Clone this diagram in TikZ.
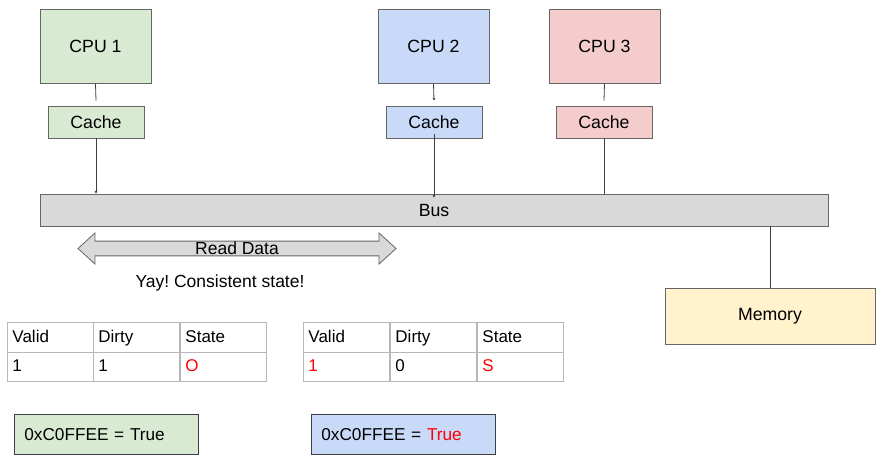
\documentclass[tikz,border=0pt]{standalone}
\usepackage{fontspec}
\setmainfont{Liberation Sans}
\usetikzlibrary{shapes.arrows,arrows.meta}
\frenchspacing
\definecolor{gfill}{HTML}{D9EAD3}
\definecolor{bfill}{HTML}{C9DAF8}
\definecolor{rfill}{HTML}{F4CCCC}
\definecolor{yfill}{HTML}{FFF2CC}
\definecolor{grayfill}{HTML}{D9D9D9}
\definecolor{edge}{HTML}{666666}
\definecolor{tabline}{HTML}{B7B7B7}
\definecolor{wire}{HTML}{3C4043}
\definecolor{redtxt}{HTML}{FF0000}
\tikzset{
  box/.style={draw=edge, line width=0.8pt, inner sep=0pt, font=\fontsize{17.7}{20}\selectfont},
  cpu/.style={box, minimum width=111pt, minimum height=74pt},
  cache/.style={box, minimum width=96pt, minimum height=32pt},
  wirel/.style={draw=wire, line width=0.8pt},
  tip/.style={-{Stealth[length=3pt,width=3pt]}},
  cell/.style={draw=tabline, line width=0.9pt, anchor=north west, inner sep=0pt, inner xsep=5pt,
     text width=76pt, align=left, minimum height=30pt, text height=12.5pt, text depth=3pt,
     font=\fontsize{17}{20}\selectfont},
  txt/.style={inner sep=0pt, font=\fontsize{17.5}{20}\selectfont},
  flag/.style={draw=wire, line width=0.8pt, anchor=north west, minimum width=184pt, minimum height=40pt,
     inner sep=0pt, inner xsep=10pt, text width=164pt, align=left, font=\fontsize{17.2}{20}\selectfont}
}
\begin{document}
\begin{tikzpicture}[x=1pt,y=-1pt]
\useasboundingbox (0,0) rectangle (883,460);
% CPUs
\node[cpu, fill=gfill] (cpu1) at (95.5,46) {\raisebox{-1pt}{CPU 1}};
\node[cpu, fill=bfill] (cpu2) at (433.5,46) {\raisebox{-1pt}{CPU 2}};
\node[cpu, fill=rfill] (cpu3) at (604.5,46) {\raisebox{-1pt}{CPU 3}};
% caches
\node[cache, fill=gfill] (c1) at (96,122) {Cache};
\node[cache, fill=bfill] (c2) at (434,122) {Cache};
\node[cache, fill=rfill] (c3) at (604,122) {Cache};
% bus
\node[box, fill=grayfill, minimum width=788pt, minimum height=32pt] (bus) at (434,210) {\raisebox{-1pt}{Bus}};
% memory
\node[box, fill=yfill, minimum width=210pt, minimum height=56pt] (mem) at (770,316) {\raisebox{-1pt}{Memory}};
% connectors
\draw[wirel] (cpu1.south) -- ([yshift=5pt]c1.north);
\draw[wirel,tip] (cpu2.south) -- ([yshift=5pt]c2.north);
\draw[wirel] (cpu3.south) -- ([yshift=5pt]c3.north);
\draw[wirel,tip] (c1.south) -- (c1.south |- bus.north);
\draw[wirel,tip] ([yshift=4pt]c2.south) -- ([yshift=-4pt]c2.south |- bus.north);
\draw[wirel] (c3.south) -- (c3.south |- bus.north);
\draw[wirel] (mem.north -| 770,0) coordinate (mtop) -- (bus.south -| mtop);
% read data arrow
\node[double arrow, draw=edge, line width=0.8pt, fill=grayfill, minimum width=31pt,
  double arrow head extend=7.5pt, double arrow tip angle=85, minimum height=318pt, inner sep=0pt,
  font=\fontsize{17.5}{20}\selectfont] (rd) at (237,248.5) {\raisebox{-2pt}{Read Data}};
\node[txt] (yay) at (220,283) {Yay! Consistent state!};
% table 1
\node[cell] (t1a) at (7,322) {Valid};
\node[cell] (t1b) at (93,322) {Dirty};
\node[cell] (t1c) at (180,322) {State};
\node[cell, minimum height=29pt] (t1d) at (7,352) {1};
\node[cell, minimum height=29pt] (t1e) at (93,352) {1};
\node[cell, minimum height=29pt, text=redtxt] (t1f) at (180,352) {O};
% table 2
\node[cell] (t2a) at (303,322) {Valid};
\node[cell] (t2b) at (390,322) {Dirty};
\node[cell] (t2c) at (477,322) {State};
\node[cell, minimum height=29pt, text=redtxt] (t2d) at (303,352) {1};
\node[cell, minimum height=29pt] (t2e) at (390,352) {0};
\node[cell, minimum height=29pt, text=redtxt] (t2f) at (477,352) {S};
% flags
\node[flag, fill=gfill] (f1) at (14,414) {0xC0FFEE = True};
\node[flag, fill=bfill] (f2) at (311,414) {0xC0FFEE = \textcolor{redtxt}{True}};
\end{tikzpicture}
\end{document}
